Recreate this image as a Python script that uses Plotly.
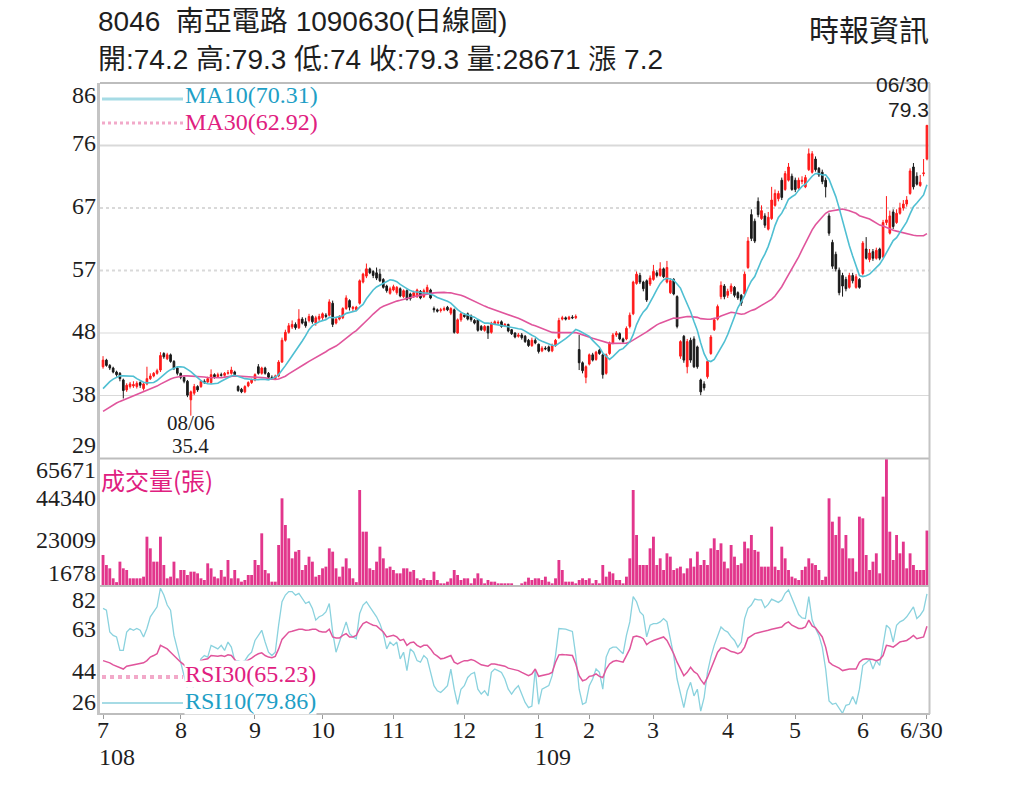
"""
8046 南亞電路 daily chart (2019/07 - 2020/06), candles + MA, volume, RSI.
"""

import pandas as pd
import plotly.graph_objects as go

W, H = 1024, 788          # size of the page as photographed
PAGE_PAD = 0              # body margin is removed by the post script below

# ---------------------------------------------------------------- data
month_labels = ["7", "8", "9", "10", "11", "12", "1", "2", "3", "4", "5", "6"]
month_days = [23, 22, 20, 21, 21, 22, 15, 19, 22, 20, 20, 20]   # trading days
year_labels = ["108", "109"]            # ROC years, under July and January
last_label = "6/30"
low_date, last_date = "08/06", "06/30"

opens = [
    42.8, 43.8, 43.0, 42.6, 42.0, 41.8, 40.8, 39.3, 39.8, 39.9, 39.8, 40.4, 39.5, 40.2, 41.0, 41.4, 41.8, 42.3, 44.8, 44.0, 44.6, 43.6, 42.6,
    41.8, 41.2, 40.6, 37.8, 38.8, 39.8, 39.8, 40.6, 40.5, 40.4, 41.6, 41.3, 41.6, 41.5, 41.8, 41.8, 42.0, 39.8, 39.4, 39.0, 39.9, 40.4,
    40.8, 42.8, 41.8, 42.6, 41.8, 41.2, 41.0, 41.4, 43.5, 46.8, 48.0, 48.8, 49.2, 48.7, 50.0, 49.6, 49.8, 50.4, 49.4, 50.0,
    50.2, 50.6, 50.6, 52.4, 49.4, 50.0, 50.2, 51.6, 52.8, 51.6, 51.4, 52.4, 55.6, 56.5, 57.6, 57.2, 57.0, 56.8, 56.0, 55.0, 53.9,
    54.4, 54.0, 54.6, 53.4, 54.3, 53.8, 53.4, 53.4, 54.2, 53.4, 54.0, 54.4, 51.6, 51.4, 51.3, 51.4, 51.8, 50.9, 51.4, 47.9, 49.9,
    50.6, 50.8, 50.5, 49.8, 49.9, 48.9, 48.3, 48.9, 48.0, 49.3, 49.4, 49.6, 49.0, 49.2, 48.4, 47.9, 47.4, 47.6, 47.4, 46.8, 46.0, 46.8,
    46.2, 45.2, 45.6, 45.8, 45.2, 46.0, 47.2, 50.0, 50.2, 50.0, 50.3, 50.2, 45.4, 43.4, 41.2,
    43.2, 44.6, 43.9, 45.3, 44.6, 41.8, 44.8, 46.4, 47.6, 47.8, 47.0, 47.0, 48.9, 50.8, 55.4, 56.6, 55.6, 55.8, 55.3,
    56.0, 57.0, 56.6, 57.6, 55.6, 54.0, 56.0, 53.4, 44.4, 47.4, 42.8, 46.8, 47.0, 45.8, 40.8, 40.2, 41.3, 44.8, 48.4, 50.0, 53.4, 55.0,
    53.6, 54.2, 54.8, 54.0, 53.6, 53.8, 57.8, 65.8, 64.8, 67.8, 65.2, 65.6, 63.6, 65.2, 67.2, 68.2, 71.0, 69.6, 71.0, 71.6,
    71.0, 69.8, 70.8, 70.0, 72.6, 72.2, 74.2, 72.8, 72.2, 71.0, 65.6, 61.6, 59.8, 57.4, 56.6, 56.0, 54.8, 56.6, 54.8, 56.0,
    56.9, 60.6, 59.0, 60.2, 59.2, 60.6, 59.4, 64.6, 63.0, 66.2, 64.6, 66.0, 66.8, 67.4, 69.0, 73.0, 71.6, 70.2, 72.0, 74.2,
]
highs = [
    44.4, 44.0, 43.2, 42.8, 42.2, 42.0, 41.0, 40.3, 40.5, 40.6, 40.6, 40.6, 40.4, 42.8, 41.8, 42.0, 42.5, 45.0, 45.0, 44.9, 44.8, 43.8, 42.8,
    41.9, 41.3, 40.8, 39.2, 40.2, 40.0, 40.8, 40.9, 41.3, 42.4, 41.8, 41.9, 41.9, 42.0, 42.3, 42.8, 42.2, 40.0, 39.6, 40.0, 40.6, 41.0,
    41.8, 43.2, 42.8, 42.8, 42.0, 41.5, 41.6, 43.8, 47.2, 48.4, 49.4, 49.8, 49.5, 51.5, 50.3, 50.2, 50.8, 50.6, 50.5, 50.8,
    51.0, 50.9, 53.0, 52.8, 50.3, 50.6, 51.8, 53.6, 53.0, 52.0, 52.0, 56.0, 57.0, 58.4, 57.8, 57.4, 57.8, 57.6, 56.2, 55.2, 54.9,
    55.2, 55.0, 54.8, 54.5, 54.5, 54.0, 54.3, 54.6, 54.4, 54.6, 55.2, 54.6, 51.9, 51.6, 51.7, 51.9, 52.0, 51.8, 51.6, 50.1, 51.0,
    50.9, 51.0, 50.7, 50.0, 50.0, 49.1, 49.1, 49.0, 49.6, 49.8, 49.8, 49.8, 49.4, 49.3, 48.5, 48.0, 47.9, 47.9, 47.6, 47.0, 47.2, 47.1,
    46.3, 45.9, 45.9, 46.0, 46.3, 47.0, 50.2, 50.5, 50.4, 50.5, 50.6, 50.7, 47.6, 43.6, 43.0,
    44.8, 44.9, 45.2, 45.5, 44.8, 44.8, 46.6, 47.9, 48.2, 48.0, 47.2, 48.9, 51.0, 55.8, 57.2, 57.0, 55.8, 56.0, 56.6,
    58.2, 57.4, 58.6, 57.8, 58.8, 56.2, 56.2, 53.6, 46.8, 47.6, 47.0, 47.2, 47.4, 46.0, 41.0, 40.6, 43.8, 47.6, 50.2, 52.2, 55.7, 55.3,
    54.6, 55.4, 55.0, 54.2, 53.8, 57.2, 62.4, 66.6, 65.2, 68.4, 67.2, 66.0, 66.2, 70.0, 69.6, 69.4, 71.4, 72.4, 73.6, 72.0,
    71.4, 71.4, 71.6, 71.8, 75.8, 75.4, 74.6, 73.0, 72.6, 71.4, 66.0, 62.0, 60.2, 57.8, 57.0, 56.4, 57.0, 57.0, 56.8, 56.2,
    61.8, 62.4, 60.6, 60.6, 60.8, 60.8, 65.0, 68.6, 66.4, 66.6, 66.6, 67.6, 68.0, 68.6, 72.8, 73.6, 72.2, 71.8, 74.2, 79.3,
]
lows = [
    42.5, 42.8, 42.3, 41.8, 41.3, 40.6, 38.0, 39.0, 39.5, 39.6, 39.5, 39.6, 39.2, 40.0, 40.8, 41.2, 41.6, 42.0, 44.0, 43.8, 43.4, 42.3, 41.5,
    40.9, 40.3, 38.2, 35.4, 38.5, 39.0, 39.6, 40.2, 40.3, 40.2, 41.0, 41.1, 41.3, 41.3, 41.6, 41.6, 41.4, 39.0, 38.8, 38.8, 39.7, 40.2,
    40.6, 41.6, 41.6, 41.6, 41.0, 40.8, 40.8, 41.2, 43.4, 46.6, 47.8, 48.5, 48.4, 48.5, 49.2, 48.7, 49.5, 49.3, 49.0, 49.7,
    49.8, 50.1, 50.4, 48.8, 49.2, 49.8, 50.0, 51.4, 51.3, 51.2, 51.2, 52.2, 55.4, 56.2, 56.8, 56.2, 55.9, 55.6, 54.6, 54.0, 53.7,
    54.2, 53.7, 53.3, 53.2, 52.8, 52.8, 53.2, 53.2, 53.0, 53.2, 53.8, 53.0, 51.0, 51.0, 51.0, 51.2, 51.2, 50.6, 47.8, 47.8, 49.6,
    50.2, 49.8, 49.6, 49.2, 48.1, 48.2, 48.1, 47.0, 47.8, 49.1, 49.2, 48.7, 48.8, 48.0, 47.6, 47.1, 47.2, 46.9, 46.4, 45.8, 45.8, 46.2,
    44.8, 45.0, 45.3, 45.0, 45.0, 45.8, 47.0, 49.8, 49.8, 49.9, 50.0, 50.0, 42.3, 41.8, 40.3,
    43.0, 43.6, 43.7, 44.6, 41.0, 41.6, 44.6, 46.2, 47.3, 46.8, 46.3, 46.8, 48.6, 50.6, 55.2, 55.3, 54.2, 52.6, 55.0,
    55.8, 56.3, 56.4, 56.2, 55.4, 53.8, 53.6, 48.6, 44.0, 43.4, 41.8, 43.4, 42.6, 42.5, 38.5, 39.2, 41.0, 44.6, 48.2, 49.8, 53.0, 53.0,
    53.2, 53.8, 53.3, 52.9, 52.0, 53.6, 57.6, 61.8, 61.5, 65.4, 65.0, 63.8, 63.4, 65.0, 67.0, 67.8, 68.0, 69.4, 70.8, 69.4,
    69.2, 69.6, 70.4, 69.8, 72.4, 72.0, 72.3, 71.5, 70.4, 68.4, 62.6, 57.6, 57.2, 53.6, 53.4, 54.2, 54.6, 55.4, 54.6, 54.6,
    56.6, 59.0, 58.6, 58.8, 59.0, 58.9, 59.2, 64.2, 62.8, 63.6, 64.4, 65.8, 66.4, 67.0, 68.8, 69.6, 70.2, 70.0, 71.6, 74.0,
]
closes = [
    43.8, 43.0, 42.6, 42.0, 41.6, 41.0, 39.2, 40.0, 40.2, 40.1, 40.3, 40.0, 40.2, 41.0, 41.4, 41.8, 42.2, 44.5, 44.3, 44.6, 43.6, 42.6, 41.8,
    41.2, 40.6, 38.5, 39.0, 39.8, 39.3, 40.6, 40.4, 41.0, 41.6, 41.3, 41.6, 41.5, 41.8, 41.9, 42.3, 41.6, 39.2, 39.0, 39.8, 40.4, 40.8,
    41.6, 41.8, 42.6, 41.8, 41.2, 41.0, 41.4, 43.5, 46.8, 48.0, 49.0, 49.2, 48.7, 50.0, 49.4, 49.0, 50.4, 49.6, 50.2, 50.4,
    50.8, 50.4, 52.6, 49.2, 50.0, 50.3, 51.6, 53.2, 51.8, 51.8, 51.8, 55.8, 56.8, 57.6, 57.0, 56.6, 56.2, 55.8, 54.8, 54.3, 54.6,
    54.9, 54.8, 53.5, 54.3, 53.0, 53.1, 54.0, 54.4, 53.2, 54.3, 54.8, 53.2, 51.4, 51.2, 51.4, 51.6, 51.4, 51.6, 48.0, 49.9, 50.8,
    50.4, 50.0, 49.9, 49.4, 48.3, 48.4, 48.9, 47.9, 49.4, 49.6, 49.5, 48.9, 49.2, 48.2, 47.8, 47.3, 47.6, 47.2, 46.6, 46.0, 46.8, 46.4,
    45.1, 45.6, 45.5, 45.2, 46.0, 46.8, 49.8, 50.2, 50.0, 50.3, 50.2, 50.4, 43.4, 42.2, 42.8,
    44.6, 43.8, 45.0, 44.8, 41.6, 44.6, 46.4, 47.6, 47.9, 47.0, 46.6, 48.6, 50.6, 55.6, 56.8, 55.6, 54.6, 52.9, 56.2,
    57.2, 56.6, 57.6, 56.4, 57.8, 55.8, 53.8, 48.9, 46.6, 43.8, 46.6, 43.8, 42.8, 42.8, 39.0, 39.6, 43.6, 47.3, 49.9, 51.9, 55.1, 53.4,
    54.2, 55.0, 53.6, 53.2, 52.4, 56.8, 61.8, 62.2, 61.8, 65.8, 66.4, 64.2, 65.4, 68.0, 69.0, 69.0, 68.4, 72.0, 73.0, 69.6,
    69.6, 71.0, 71.0, 71.4, 75.0, 75.0, 72.6, 71.8, 70.8, 70.0, 63.0, 58.0, 57.6, 54.0, 55.0, 54.6, 56.6, 55.8, 56.4, 54.8,
    61.5, 59.2, 60.0, 59.2, 60.4, 59.2, 64.6, 65.0, 65.6, 64.0, 66.0, 66.8, 67.4, 68.0, 72.4, 70.0, 70.4, 70.7, 72.1, 79.3,
]
# closes before 2019/07/01, estimated from where the two moving averages start
warmup_closes = [
    32.6, 32.9, 33.1, 33.0, 33.4, 33.2, 33.6, 33.9, 34.1, 34.0, 34.3, 34.6, 34.4, 34.8, 35.1,
    35.0, 35.5, 35.9, 36.4, 36.9, 37.3, 37.8, 38.1, 38.6, 39.0, 39.4, 39.9, 40.3, 40.7,
]
volumes = [
    16030, 10860, 9140, 3970, 2000, 12590, 9140, 8280, 3970, 3970, 3970, 3970, 4830, 25500, 19480, 12590, 12590, 25500, 10860, 3970, 4830, 12590, 3970,
    8280, 8280, 5690, 7410, 7410, 6550, 3970, 3100, 11720, 9140, 4830, 3970, 8280, 4830, 13450, 3970, 8280, 3970, 2240, 3100, 5690, 5690,
    13450, 10860, 27240, 8280, 6550, 2240, 2240, 21200, 45340, 31550, 24650, 14310, 17760, 18620, 8280, 10860, 15170, 12590, 4830, 5690,
    9140, 10000, 19480, 17760, 9140, 4830, 10000, 14310, 9140, 3970, 2000, 49650, 28100, 28100, 9140, 8280, 12590, 20340, 14310, 9140, 10000,
    8280, 6550, 6550, 9140, 9140, 7410, 8280, 3970, 3100, 3970, 3100, 3100, 7410, 3100, 1380, 1380, 2240, 3970, 8280, 5690, 3100,
    3970, 3970, 1380, 3970, 6550, 3970, 1380, 3100, 2240, 2240, 1380, 1380, 1380, 1380, 1380, 300, 300, 1380, 2240, 4310, 3100, 3970,
    3970, 3100, 4830, 2240, 1380, 3970, 13450, 8280, 2240, 2240, 2240, 1380, 3100, 3970, 3100,
    3970, 1380, 3100, 1380, 10860, 4830, 7410, 6550, 3100, 3100, 1380, 4830, 14310, 49650, 26380, 10860, 10860, 10860, 19480,
    25500, 10860, 14310, 8280, 16900, 15170, 8280, 9140, 10000, 6550, 9140, 14310, 10000, 17760, 10860, 13450, 10860, 19480, 24650, 18620, 22070, 12590,
    9140, 21200, 15170, 10860, 11720, 22930, 19480, 26380, 18620, 17760, 10000, 10000, 10000, 30690, 10000, 8280, 20340, 14310, 8280, 4830,
    3970, 3100, 8280, 10000, 14310, 11720, 10860, 8280, 3100, 4830, 45340, 33270, 26380, 35860, 19480, 26380, 14310, 14310, 7410, 35860,
    35000, 16030, 8280, 12590, 16900, 6550, 46200, 65671, 28100, 13450, 26380, 16900, 22930, 9140, 16900, 10860, 8280, 8280, 8280, 28671,
]
rsi10 = [
    73.3, 72.5, 62.6, 61.1, 60.4, 54.3, 54.3, 62.6, 64.2, 63.4, 64.2, 63.4, 60.4, 64.2, 69.5, 71.7, 74.0, 82.4, 79.3, 74.8, 72.5, 61.1, 55.0,
    49.0, 42.9, 36.8, 33.0, 39.9, 45.9, 50.5, 52.0, 51.3, 56.6, 55.8, 55.0, 56.6, 54.3, 58.1, 55.8, 49.7, 49.7, 49.0, 49.7, 52.0, 53.5,
    58.8, 61.1, 63.4, 58.1, 53.5, 52.0, 53.5, 65.7, 76.3, 79.3, 80.9, 80.9, 79.3, 80.1, 77.8, 75.5, 76.3, 73.3, 68.0, 69.5,
    70.2, 71.7, 75.5, 62.6, 53.5, 58.1, 63.4, 67.2, 61.9, 60.4, 59.6, 71.0, 74.8, 76.3, 74.0, 71.7, 69.5, 66.4, 61.9, 55.0, 58.1,
    56.6, 58.1, 50.5, 53.5, 45.2, 55.0, 53.5, 49.7, 49.0, 52.0, 50.5, 44.4, 38.4, 36.1, 35.3, 36.8, 38.4, 45.9, 36.8, 30.0, 36.8,
    38.4, 42.1, 43.7, 44.4, 36.8, 34.6, 36.1, 33.8, 44.4, 45.9, 45.2, 44.4, 41.4, 36.8, 34.6, 36.8, 38.4, 34.6, 30.8, 28.5, 29.2, 45.9,
    30.0, 36.8, 37.6, 38.4, 42.9, 52.0, 64.2, 64.2, 63.9, 63.4, 62.9, 52.0, 36.8, 30.0, 30.8,
    38.4, 41.4, 45.9, 44.4, 36.8, 51.3, 55.0, 55.8, 55.8, 54.3, 52.8, 61.1, 67.2, 78.6, 76.3, 71.7, 70.2, 60.4, 65.7,
    66.4, 66.4, 67.2, 68.7, 67.2, 58.8, 52.0, 41.4, 34.6, 28.5, 36.1, 39.9, 33.8, 36.8, 26.9, 33.0, 44.4, 51.3, 56.6, 60.4, 64.9, 63.4,
    62.6, 60.4, 58.8, 55.8, 58.1, 68.7, 73.3, 74.8, 77.5, 77.1, 77.1, 73.6, 75.1, 77.5, 76.6, 76.0, 77.1, 80.1, 81.6, 77.8,
    73.6, 70.5, 69.0, 68.7, 78.6, 68.0, 64.2, 61.1, 55.8, 45.9, 31.5, 30.0, 30.5, 28.0, 25.9, 29.5, 30.0, 33.5, 30.0, 36.8,
    47.5, 48.7, 50.2, 45.9, 49.7, 47.5, 55.8, 65.7, 64.2, 58.1, 65.7, 67.2, 68.0, 69.5, 71.7, 74.0, 68.7, 70.2, 72.5, 79.86,
]
rsi30 = [
    49.7, 49.3, 48.7, 47.8, 47.2, 46.3, 45.9, 47.2, 47.5, 47.8, 48.2, 48.2, 48.7, 49.7, 51.3, 52.0, 52.8, 56.6, 55.8, 55.0, 53.5, 52.0, 50.2,
    49.0, 47.8, 45.9, 45.2, 46.7, 47.5, 49.7, 50.2, 50.5, 52.0, 51.7, 51.7, 52.0, 51.6, 52.3, 52.0, 50.2, 48.2, 48.2, 49.0, 49.7, 50.8,
    52.0, 52.8, 53.2, 52.0, 51.3, 51.0, 51.6, 55.0, 59.3, 61.1, 62.6, 63.0, 63.4, 63.9, 63.9, 63.4, 63.5, 63.9, 63.9, 63.0,
    62.6, 62.6, 63.9, 60.4, 59.9, 59.9, 61.1, 61.9, 60.4, 60.4, 61.1, 64.2, 66.4, 67.2, 66.4, 65.7, 65.4, 64.2, 62.6, 60.4, 60.8,
    61.1, 60.4, 58.8, 59.3, 56.6, 57.8, 58.1, 56.6, 55.8, 56.6, 56.6, 55.0, 52.8, 51.7, 50.5, 50.8, 51.3, 52.0, 49.0, 48.2, 49.0,
    49.7, 49.7, 50.2, 49.7, 48.7, 47.8, 47.5, 47.2, 48.2, 48.2, 47.8, 47.5, 47.2, 46.3, 45.9, 45.6, 45.2, 44.4, 43.7, 42.9, 43.7, 45.9,
    42.6, 42.9, 43.2, 43.7, 44.4, 49.0, 52.3, 52.5, 52.3, 52.3, 52.0, 48.2, 42.9, 40.6, 41.1,
    42.6, 42.9, 43.7, 42.6, 42.1, 45.9, 48.2, 49.3, 49.7, 49.3, 49.0, 52.0, 55.0, 60.4, 60.8, 60.4, 59.6, 56.9, 58.1,
    58.8, 59.3, 59.6, 60.4, 58.8, 55.8, 52.8, 49.0, 45.9, 42.9, 44.4, 46.7, 44.7, 43.7, 41.1, 39.1, 42.1, 45.9, 49.0, 53.5, 55.4, 55.4,
    54.7, 53.8, 53.5, 52.8, 53.5, 55.8, 59.9, 61.1, 61.9, 62.3, 62.6, 63.0, 63.4, 63.9, 64.2, 64.5, 64.9, 66.4, 67.2, 65.7,
    64.9, 64.2, 64.2, 64.9, 68.0, 65.4, 64.5, 62.6, 60.4, 55.8, 49.0, 47.8, 47.2, 46.3, 45.2, 45.6, 45.9, 45.9, 45.9, 49.0,
    50.2, 50.5, 50.5, 50.2, 49.7, 50.2, 52.0, 56.6, 56.3, 55.8, 56.9, 58.1, 58.5, 58.8, 59.9, 61.1, 59.6, 59.9, 60.4, 65.23,
]

# axis scales as printed on the chart
price_ticks = [29.0, 38.45, 47.9, 57.35, 66.8, 76.25, 85.7]
volume_ticks = [1678, 23009, 44340, 65671]
rsi_ticks = [25.6, 44.3, 63.0, 81.7]
rsi_range = [25.6, 83.4]

# ---------------------------------------------------------------- style
RED, BLACK = "#ff1a1a", "#1a1a1a"
CYAN_LINE, CYAN_TEXT = "#4fbfd2", "#1f9fc6"
PINK_LINE, PINK_TEXT = "#e0559c", "#e0207f"
VOL_COLOR = "#e2368c"
GRID = "#d9d9d9"
BORDER = "#bdbdbd"
SERIF = "Liberation Serif, Times New Roman, serif"
SANS = "Liberation Sans, Noto Sans CJK TC, sans-serif"
CJK = "Noto Sans CJK TC, Noto Sans CJK SC, sans-serif"

# panel edges, in page pixels
PLOT_L, PLOT_R = 100, 930
PRICE_TOP, PRICE_BOT = 83, 458
VOL_TOP, VOL_BOT = 459, 586
RSI_TOP, RSI_BOT = 586, 714

FIG_W, FIG_H = W - 2 * PAGE_PAD, H - 2 * PAGE_PAD


def px_x(px):
    """Page pixel column -> paper x of the figure."""
    return (px - PAGE_PAD) / FIG_W


def px_y(px):
    """Page pixel row -> paper y of the figure."""
    return 1 - (px - PAGE_PAD) / FIG_H


def moving_average(window):
    """MA over closes, using the pre-July closes so the line starts on day one."""
    s = pd.Series(warmup_closes + closes).rolling(window).mean()
    return s.iloc[len(warmup_closes):].tolist()


def build_figure():
    n = len(closes)
    x = list(range(n))
    month_start = [sum(month_days[:i]) for i in range(len(month_days))]
    ma10 = moving_average(10)
    ma30 = moving_average(30)

    fig = go.Figure()

    # candles
    fig.add_trace(go.Candlestick(
        x=x, open=opens, high=highs, low=lows, close=closes,
        increasing=dict(line=dict(color=RED, width=1), fillcolor=RED),
        decreasing=dict(line=dict(color=BLACK, width=1), fillcolor=BLACK),
        whiskerwidth=0, xaxis="x", yaxis="y", hoverinfo="skip",
    ))
    fig.add_trace(go.Scatter(x=x, y=ma30, mode="lines", line=dict(color=PINK_LINE, width=1.6),
                             xaxis="x", yaxis="y"))
    fig.add_trace(go.Scatter(x=x, y=ma10, mode="lines", line=dict(color=CYAN_LINE, width=1.6),
                             xaxis="x", yaxis="y"))

    # volume
    fig.add_trace(go.Bar(x=x, y=volumes, marker=dict(color=VOL_COLOR, line=dict(width=0)),
                         xaxis="x2", yaxis="y2"))

    # RSI
    fig.add_trace(go.Scatter(x=x, y=rsi10, mode="lines", line=dict(color="#8ad2de", width=1.3),
                             xaxis="x3", yaxis="y3"))
    fig.add_trace(go.Scatter(x=x, y=rsi30, mode="lines", line=dict(color=PINK_LINE, width=1.5),
                             xaxis="x3", yaxis="y3"))

    xd = [px_x(PLOT_L), px_x(PLOT_R)]
    xr = [-0.9, n - 0.1]
    hidden = dict(showgrid=False, zeroline=False, showticklabels=False, ticks="")

    fig.update_layout(
        width=FIG_W, height=FIG_H,
        margin=dict(l=0, r=0, t=0, b=0),
        paper_bgcolor="white", plot_bgcolor="white",
        showlegend=False, hovermode=False, bargap=0.15,
        xaxis=dict(domain=xd, range=xr, anchor="y", rangeslider=dict(visible=False), **hidden),
        xaxis2=dict(domain=xd, range=xr, anchor="y2", matches="x", **hidden),
        xaxis3=dict(
            domain=xd, range=xr, anchor="y3", matches="x",
            showgrid=False, zeroline=False, showticklabels=False,
            tickmode="array", tickvals=month_start + [n - 1],
            ticks="outside", ticklen=4, tickcolor="#9a9a9a",
        ),
        yaxis=dict(domain=[px_y(PRICE_BOT), px_y(PRICE_TOP)],
                   range=[price_ticks[0], price_ticks[-1]], **hidden),
        yaxis2=dict(domain=[px_y(VOL_BOT), px_y(VOL_TOP)],
                    range=[0, max(volumes)], **hidden),
        yaxis3=dict(domain=[px_y(RSI_BOT), px_y(RSI_TOP)], range=rsi_range, **hidden),
    )

    shapes = []

    # price grid
    grid_styles = [("solid", 1), ("solid", 1), ("dot", 2), ("dot", 2), ("solid", 2)]
    for level, (dash, width) in zip(price_ticks[1:-1], grid_styles):
        shapes.append(dict(type="line", xref="paper", yref="y", x0=xd[0], x1=xd[1],
                           y0=level, y1=level, layer="below",
                           line=dict(color=GRID, width=width, dash=dash)))

    # panel frames
    for y_px in [PRICE_TOP, PRICE_BOT + 0.5, VOL_BOT, RSI_BOT]:
        shapes.append(dict(type="line", xref="paper", yref="paper", x0=xd[0], x1=xd[1],
                           y0=px_y(y_px), y1=px_y(y_px), line=dict(color=BORDER, width=2)))
    shapes.append(dict(type="line", xref="paper", yref="paper",
                       x0=px_x(98.5), x1=px_x(98.5), y0=px_y(PRICE_TOP), y1=px_y(RSI_BOT + 1),
                       line=dict(color="#c4c4c4", width=3)))
    shapes.append(dict(type="line", xref="paper", yref="paper",
                       x0=px_x(929.5), x1=px_x(929.5), y0=px_y(PRICE_TOP), y1=px_y(RSI_BOT),
                       line=dict(color="#c4c4c4", width=2)))

    # legend swatches
    for y_px, color, dash, width in [(99, "#a6dbe5", "solid", 3), (123, "#f2a9c9", "dot", 3),
                                     (677, "#f2a9c9", "dot", 4), (703, "#a6dbe5", "solid", 2)]:
        shapes.append(dict(type="line", xref="paper", yref="paper",
                           x0=px_x(102), x1=px_x(183), y0=px_y(y_px), y1=px_y(y_px),
                           line=dict(color=color, width=width, dash=dash)))

    fig.update_layout(shapes=shapes)

    ann = []

    def note(text, x, y, size=24, color="#1e1e1e", family=SERIF, xanchor="left",
             xref="paper", yref="paper", yshift=0, xshift=0, bg=None):
        d = dict(text=text, x=x, y=y, xref=xref, yref=yref, showarrow=False,
                 xanchor=xanchor, yanchor="middle", xshift=xshift, yshift=yshift + 2,
                 borderpad=0, font=dict(family=family, size=size, color=color))
        if bg:
            d["bgcolor"] = bg
        ann.append(d)

    # y-axis labels (edge labels pulled inside their panel)
    for i, v in enumerate(price_ticks):
        shift = -14 if i == len(price_ticks) - 1 else (11 if i == 0 else 0)
        note(f"{v:.0f}", px_x(97), v, yref="y", xanchor="right", yshift=shift)
    for i, v in enumerate(volume_ticks):
        shift = -13 if i == len(volume_ticks) - 1 else (8 if i == 0 else 0)
        note(f"{v}", px_x(97), v, yref="y2", xanchor="right", yshift=shift)
    for i, v in enumerate(rsi_ticks):
        shift = -12 if i == len(rsi_ticks) - 1 else (10 if i == 0 else 0)
        note(f"{v:.0f}", px_x(97), v, yref="y3", xanchor="right", yshift=shift)

    # month labels under the ticks, ROC year under July / January
    for label, m in zip(month_labels, month_start):
        note(label, m, px_y(732), xref="x3", xanchor="center")
    note(last_label, n - 1, px_y(732), xref="x3", xanchor="center", xshift=-5)
    for label, m in zip(year_labels, [0, 6]):
        note(label, month_start[m], px_y(759), xref="x3", xshift=-5)

    # title block
    chg = closes[-1] - closes[-2]
    note("8046\u00a0\u00a0南亞電路 1090630(日線圖)", px_x(97), px_y(24), size=28, family=SANS)
    note(f"開:{opens[-1]:g} 高:{highs[-1]:g} 低:{lows[-1]:g} 收:{closes[-1]:g} "
         f"量:{volumes[-1]} 漲 {chg:.1f}", px_x(97), px_y(61), size=28, family=SANS)
    note("時報資訊", px_x(930), px_y(30), size=30, family=CJK, xanchor="right")

    # MA / volume / RSI legends
    note(f"MA10({ma10[-1]:.2f})", px_x(184), px_y(97), color=CYAN_TEXT)
    note(f"MA30({ma30[-1]:.2f})", px_x(184), px_y(124), color=PINK_TEXT)
    note("成交量(張)", px_x(100), px_y(481), size=24, family=CJK, color=PINK_TEXT)
    note(f"RSI30({rsi30[-1]:.2f})", px_x(184), px_y(676), color=PINK_TEXT, bg="white")
    note(f"RSI10({rsi10[-1]:.2f})", px_x(184), px_y(703), color=CYAN_TEXT, bg="white")

    # low and last-close call-outs
    lo = lows.index(min(lows))
    note(low_date, lo, px_y(425), xref="x", xanchor="center", size=21)
    note(f"{lows[lo]:g}", lo, px_y(448), xref="x", xanchor="center", size=21)
    note(last_date, n - 1, px_y(86), xref="x", xanchor="right", xshift=3, size=21, family=SANS)
    note(f"{closes[-1]:g}", n - 1, px_y(112), xref="x", xanchor="right", xshift=3,
         size=21, family=SANS)

    fig.update_layout(annotations=ann)
    return fig


def main():
    fig = build_figure()
    # drop the default 8px page margin so the chart fills the window exactly
    fig.write_html("out.html", config={"displayModeBar": False},
                   post_script="document.body.style.margin = '0px';")


if __name__ == "__main__":
    main()
